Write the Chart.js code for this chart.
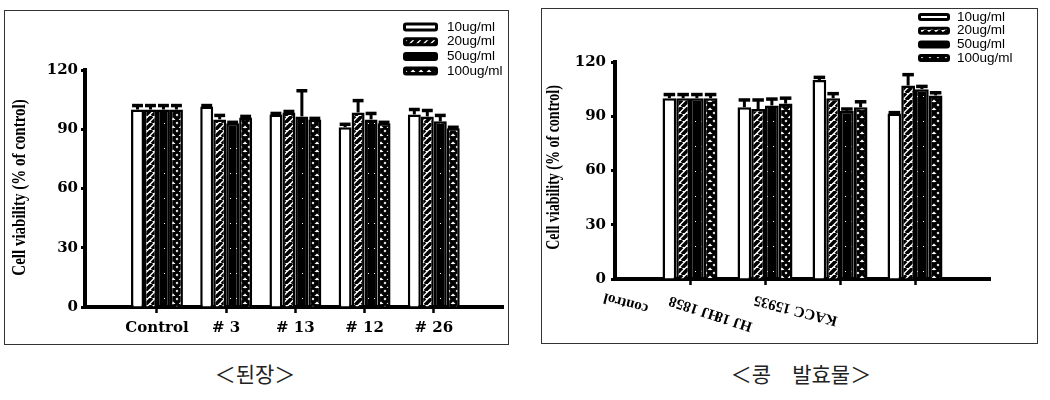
<!DOCTYPE html>
<html lang="ko">
<head>
<meta charset="utf-8">
<title>Cell viability</title>
<script src="https://cdn.jsdelivr.net/npm/chart.js@4.4.1/dist/chart.umd.min.js"></script>
<style>
  body { margin: 0; background: #fff; }
  .panel { position: absolute; border: 1px solid #333; background: #fff; }
  .panel canvas { display: block; }
  .caption {
    position: absolute; text-align: center;
    font-family: "Noto Sans CJK KR", sans-serif; font-size: 21px; line-height: 21px;
    color: #222; font-variant-east-asian: full-width;
  }
</style>
</head>
<body>
<div class="panel" style="left:4px; top:10px;"><canvas id="doenjang" width="503" height="333"></canvas></div>
<div class="panel" style="left:541px; top:8px;"><canvas id="soybean" width="495" height="334"></canvas></div>
<div class="caption" style="left:0; top:363px; width:510px;">&lt;된장&gt;</div>
<div class="caption" style="left:541px; top:363px; width:520px;">&lt;콩 발효물&gt;</div>
<script>
// groups on the x axis
const doenjangGroups = ['Control', '# 3', '# 13', '# 12', '# 26'];
const soyGroups = ['control', 'HJ 18', 'HJ 1858', 'KACC 15935'];
const doses = ['10ug/ml', '20ug/ml', '50ug/ml', '100ug/ml'];
const yMax = 120;
const yStep = 30;
const yTitle = 'Cell viability (% of control)';

// 된장 - cell viability (%) and upper error
const dj10 = [100, 101.5, 97.5, 91, 97.5];
const dj20 = [100, 95, 98.5, 98.5, 96.5];
const dj50 = [100, 93, 96.5, 95, 94];
const dj100 = [100, 96, 95, 93, 90.5];
const dj10Err = [2, 0.5, 0.5, 1.5, 2.5];
const dj20Err = [2, 2, 0.5, 6, 3];
const dj50Err = [2, 0.5, 13, 3, 3];
const dj100Err = [2, 0.5, 0.5, 0.5, 0.5];

// 콩 발효물
const soy10 = [100, 95, 110, 91.5];
const soy20 = [100, 94, 100, 107];
const soy50 = [100, 96, 93, 105];
const soy100 = [100, 97, 95, 101.5];
const soy10Err = [2, 4, 1.5, 0.5];
const soy20Err = [2, 5, 2.5, 6];
const soy50Err = [2, 3.5, 1, 1.5];
const soy100Err = [2, 3, 3, 1.5];

// fill patterns, like the old black & white plots
function tile(w, h, paint) {
  const c = document.createElement('canvas');
  c.width = w; c.height = h;
  const g = c.getContext('2d');
  paint(g, w, h);
  return g.createPattern(c, 'repeat');
}
const hatch = tile(7, 7, (g, w, h) => {
  g.fillStyle = '#fff'; g.fillRect(0, 0, w, h);
  g.strokeStyle = '#000'; g.lineWidth = 3.6;
  g.beginPath();
  for (const o of [-w, 0, w]) { g.moveTo(o, h); g.lineTo(o + w, 0); }
  g.stroke();
});
const solid = tile(6, 25, (g, w, h) => {
  g.fillStyle = '#000'; g.fillRect(0, 0, w, h);
  g.fillStyle = '#fff'; g.fillRect(3, 12, 1, 1);
});
const cross = tile(8, 8, (g, w, h) => {
  g.fillStyle = '#fff'; g.fillRect(0, 0, w, h);
  g.strokeStyle = '#000'; g.lineWidth = 3.6;
  g.beginPath();
  for (const o of [-w, 0, w]) {
    g.moveTo(o, h); g.lineTo(o + w, 0);
    g.moveTo(o, 0); g.lineTo(o + w, h);
  }
  g.stroke();
});
const doseFills = ['#fff', hatch, solid, cross];

// upper error bars (SD)
const errorBars = {
  id: 'errorBars',
  afterDatasetsDraw(chart) {
    const ctx = chart.ctx, y = chart.scales.y;
    chart.data.datasets.forEach((ds, i) => {
      chart.getDatasetMeta(i).data.forEach((bar, j) => {
        const err = ds.errors[j];
        if (!err) return;
        const top = y.getPixelForValue(ds.data[j].y + err);
        const half = bar.width * 0.42;
        ctx.save();
        ctx.strokeStyle = '#000';
        ctx.lineWidth = 3;
        ctx.beginPath();
        ctx.moveTo(bar.x, bar.y);
        ctx.lineTo(bar.x, top);
        ctx.stroke();
        ctx.lineWidth = 3.5;
        ctx.beginPath();
        ctx.moveTo(bar.x - half, top);
        ctx.lineTo(bar.x + half, top);
        ctx.stroke();
        ctx.restore();
      });
    });
  }
};

// legend: stacked boxes top right
const doseLegend = {
  id: 'doseLegend',
  afterDraw(chart, args, o) {
    const ctx = chart.ctx;
    chart.data.datasets.forEach((ds, i) => {
      const cy = o.y + i * o.gap;
      ctx.save();
      ctx.fillStyle = '#000';
      ctx.beginPath();
      ctx.roundRect(o.x, cy - o.h / 2, o.w, o.h, 3);
      ctx.fill();
      ctx.fillStyle = ds.backgroundColor;
      ctx.fillRect(o.x + 3, cy - o.h / 2 + 3, o.w - 6, o.h - 6);
      ctx.fillStyle = '#000';
      ctx.font = o.font;
      ctx.textBaseline = 'middle';
      ctx.fillText(ds.label, o.textX, cy);
      ctx.restore();
    });
  }
};

// rotated y title (glyphs a bit stretched, as in the scanned figure)
const sideTitle = {
  id: 'sideTitle',
  afterDraw(chart, args, o) {
    const ctx = chart.ctx;
    ctx.save();
    ctx.translate(o.x, o.y);
    ctx.rotate(-Math.PI / 2);
    ctx.scale(1, o.stretch);
    ctx.font = o.font;
    ctx.fillStyle = '#000';
    ctx.textAlign = 'center';
    ctx.textBaseline = 'middle';
    ctx.fillText(o.text, 0, 0);
    ctx.restore();
  }
};

// upside-down category names (right panel)
const flippedLabels = {
  id: 'flippedLabels',
  afterDraw(chart, args, o) {
    if (!o.labels) return;
    const ctx = chart.ctx, xs = chart.scales.x;
    o.labels.forEach((text, i) => {
      ctx.save();
      ctx.translate(xs.getPixelForValue(i + 1) + o.dx[i], o.y[i]);
      ctx.rotate(Math.PI + o.angle[i] * Math.PI / 180);
      ctx.font = o.font;
      ctx.fillStyle = '#000';
      ctx.textAlign = 'left';
      ctx.textBaseline = 'alphabetic';
      ctx.fillText(text, 0, 0);
      ctx.restore();
    });
  }
};

function makeChart(id, groups, series, errors, look) {
  const datasets = series.map((vals, k) => ({
    label: doses[k],
    data: vals.map((v, i) => ({ x: i + 1, y: v })),
    errors: errors[k],
    backgroundColor: doseFills[k],
    borderColor: '#000',
    borderWidth: 2.5,
    categoryPercentage: look.groupWidth,
    barPercentage: 1
  }));

  return new Chart(document.getElementById(id), {
    type: 'bar',
    data: { datasets },
    options: {
      responsive: false,
      animation: false,
      devicePixelRatio: 1,
      layout: { padding: { top: look.padTop, right: look.padRight, left: 0, bottom: 0 } },
      plugins: {
        legend: { display: false },
        tooltip: { enabled: false },
        doseLegend: look.legend,
        sideTitle: look.title,
        flippedLabels: look.flipped || {}
      },
      scales: {
        x: {
          type: 'linear',
          min: look.xMin,
          max: look.xMax,
          offset: false,
          afterBuildTicks: s => { s.ticks = groups.map((g, i) => ({ value: i + 1 })); },
          afterFit: s => { s.height = look.xHeight; },
          grid: { offset: false, drawOnChartArea: false, tickLength: 6, tickWidth: 2.5, tickColor: '#000' },
          border: { color: '#000', width: 4 },
          ticks: {
            autoSkip: false,
            maxRotation: 0,
            padding: 6.5,
            color: '#000',
            font: { family: '"DejaVu Serif", serif', size: 15, weight: 'bold' },
            callback: v => look.flipped ? '' : groups[v - 1]
          }
        },
        y: {
          min: 0,
          max: yMax,
          afterFit: s => { s.width = look.yWidth; },
          grid: { drawOnChartArea: false, tickLength: 4, tickWidth: 3, tickColor: '#000' },
          border: { color: '#000', width: 4 },
          ticks: {
            stepSize: yStep,
            padding: look.yPad,
            color: '#000',
            font: { family: '"DejaVu Serif", serif', size: 15, weight: 'bold' }
          }
        }
      }
    },
    plugins: [errorBars, doseLegend, sideTitle, flippedLabels]
  });
}

makeChart('doenjang', doenjangGroups,
  [dj10, dj20, dj50, dj100], [dj10Err, dj20Err, dj50Err, dj100Err], {
    padTop: 59, padRight: 5, yWidth: 80, xHeight: 37, yPad: 3,
    xMin: -0.04, xMax: 6, groupWidth: 0.75,
    legend: { x: 398, y: 16, gap: 14.7, w: 35, h: 9, textX: 442, font: '13.5px "Liberation Sans", Arial, sans-serif' },
    title: { text: yTitle, x: 15, y: 176.5, stretch: 1.3, font: 'bold 15px "Liberation Serif", serif' }
  });

makeChart('soybean', soyGroups,
  [soy10, soy20, soy50, soy100], [soy10Err, soy20Err, soy50Err, soy100Err], {
    padTop: 53, padRight: 47, yWidth: 73, xHeight: 64, yPad: 5,
    xMin: 0, xMax: 5, groupWidth: 0.733,
    legend: { x: 376, y: 8, gap: 13.7, w: 32, h: 8, textX: 415, font: '13.5px "Liberation Sans", Arial, sans-serif' },
    title: { text: yTitle, x: 12.5, y: 158.5, stretch: 1.3, font: 'bold 14px "Liberation Serif", serif' },
    flipped: {
      labels: soyGroups,
      dx: [-41, -12, -119, -77],
      y: [296, 314, 303.6, 308],
      angle: [15, 18, 18, 14.5],
      font: 'bold 15px "Liberation Serif", serif'
    }
  });
</script>
</body>
</html>
